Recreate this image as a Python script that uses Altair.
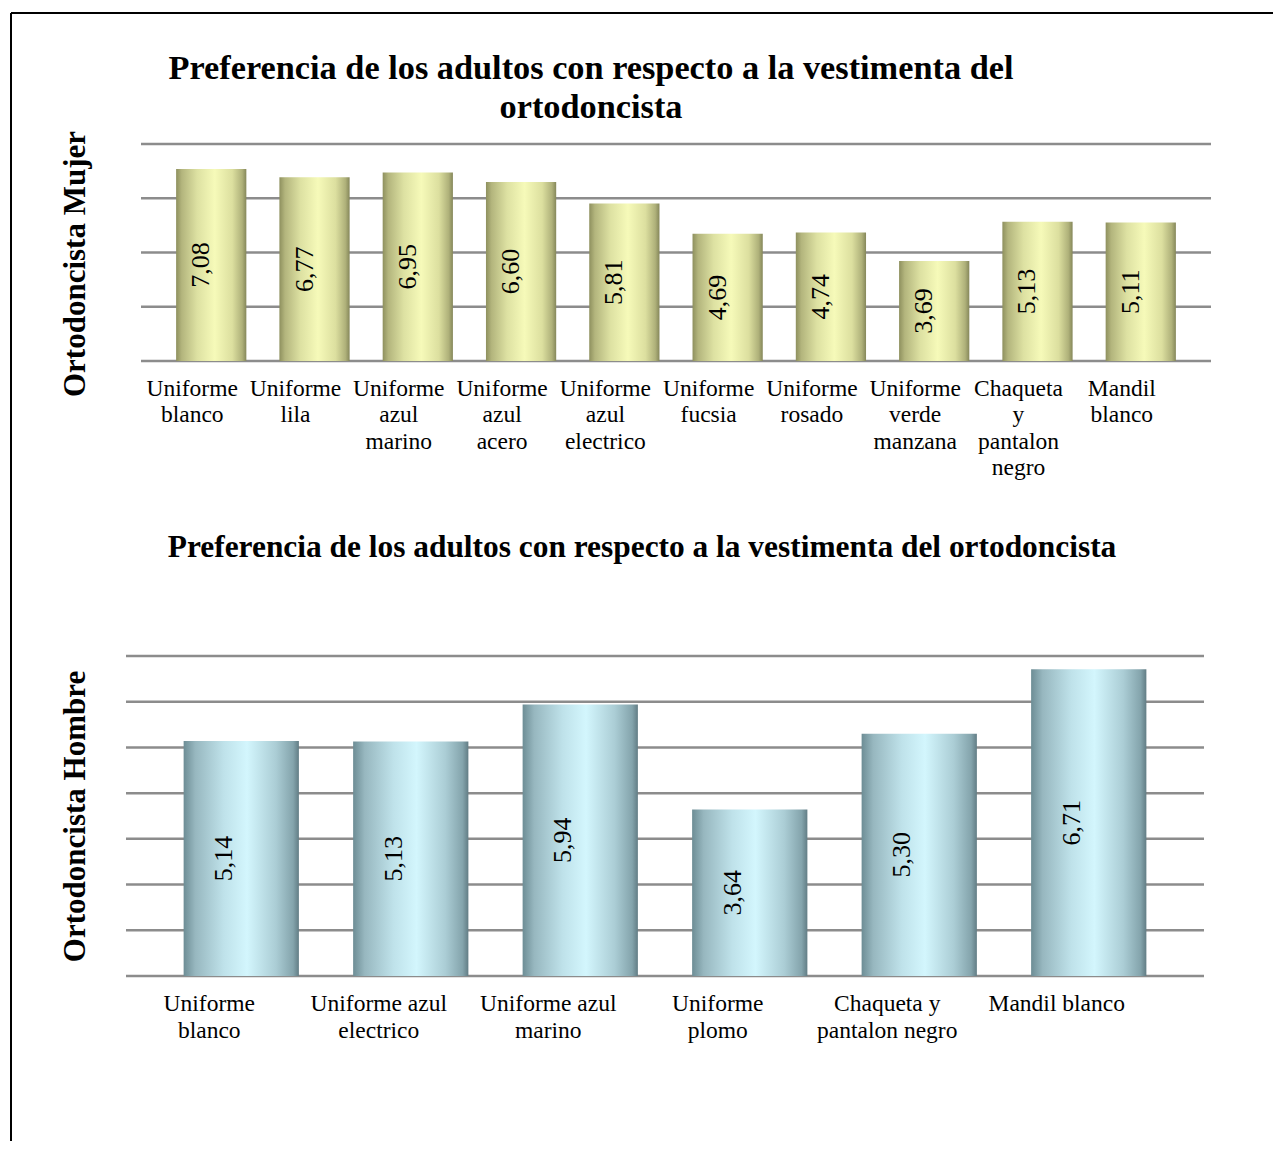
import altair as alt
import pandas as pd

FONT = "Liberation Serif"

# ---- data: top panel (Ortodoncista Mujer) ----
top_categories = [
    "Uniforme|blanco", "Uniforme|lila", "Uniforme|azul|marino", "Uniforme|azul|acero",
    "Uniforme|azul|electrico", "Uniforme|fucsia", "Uniforme|rosado",
    "Uniforme|verde|manzana", "Chaqueta|y|pantalon|negro", "Mandil|blanco",
]
top_values = [7.08, 6.77, 6.95, 6.60, 5.81, 4.69, 4.74, 3.69, 5.13, 5.11]
top_grid = [0, 2, 4, 6, 8]
top_title = ["Preferencia de los adultos con respecto a la vestimenta del", "ortodoncista"]
top_ytitle = "Ortodoncista Mujer"

# ---- data: bottom panel (Ortodoncista Hombre) ----
bottom_categories = [
    "Uniforme|blanco", "Uniforme azul|electrico", "Uniforme azul|marino",
    "Uniforme|plomo", "Chaqueta y|pantalon negro", "Mandil blanco",
]
bottom_values = [5.14, 5.13, 5.94, 3.64, 5.30, 6.71]
bottom_grid = [0, 1, 2, 3, 4, 5, 6, 7]
bottom_title = "Preferencia de los adultos con respecto a la vestimenta del ortodoncista"
bottom_ytitle = "Ortodoncista Hombre"

# ---- styles ----
yellow_stops = [("#8e905e", 0.0), ("#b3b57d", 0.08), ("#dde1a2", 0.3), ("#f6fab9", 0.55),
                ("#dcdf9f", 0.8), ("#afb17a", 0.94), ("#85875a", 1.0)]
blue_stops = [("#6d8d95", 0.0), ("#97b7bf", 0.1), ("#bfe2ea", 0.35), ("#d3f6fd", 0.55),
              ("#abcdd5", 0.8), ("#84a4ac", 0.95), ("#627d85", 1.0)]
GRID_COLOR = "#8c8c8c"


def gradient(stops):
    return alt.Gradient(
        gradient="linear", x1=0, x2=1, y1=0, y2=0,
        stops=[alt.GradientStop(color=c, offset=o) for c, o in stops],
    )


def panel(cats, vals, grid, title, title_size, title_dx, title_offset, ytitle,
          ytitle_y, width, height, x_range, stops, label_pad, label_lh,
          label_off, text_dy, vrule, hrule=None):
    df = pd.DataFrame({"cat": cats, "v": vals})
    base = alt.Chart(df)
    x_axis = alt.Axis(
        title=None, labelExpr="split(datum.label, '|')", labelAngle=0,
        labelFont=FONT, labelFontSize=23.5, labelLineHeight=label_lh,
        labelPadding=label_pad, labelOffset=label_off, labelColor="black",
        ticks=False, tickSize=0, domain=False, labelOverlap=False,
        labelLimit=400, grid=False,
    )
    y_axis_kw = dict(
        title=ytitle, values=grid, labels=False, ticks=False, tickSize=0,
        domain=False, grid=False,
        titleFont=FONT, titleFontSize=31, titleFontWeight="bold",
        titleColor="black", titlePadding=50,
    )
    if ytitle_y is not None:
        y_axis_kw["titleY"] = ytitle_y
    y_axis = alt.Axis(**y_axis_kw)
    x_scale = alt.Scale(paddingInner=0.32, paddingOuter=0.34, range=x_range)
    y_scale = alt.Scale(domain=[grid[0], grid[-1]], nice=False)

    # gridlines (drawn first, below bars)
    gdf = pd.DataFrame({"g": grid})
    gridlines = alt.Chart(gdf).mark_rule(color=GRID_COLOR, strokeWidth=2.5).encode(
        y=alt.Y("g:Q", scale=y_scale, axis=y_axis),
        x=alt.value(x_range[0]), x2=alt.value(x_range[1]),
    )
    bars = base.mark_bar(color=gradient(stops)).encode(
        x=alt.X("cat:N", sort=cats, scale=x_scale, axis=x_axis),
        y=alt.Y("v:Q", scale=y_scale, axis=y_axis),
    )
    texts = base.transform_calculate(
        mid="datum.v / 2",
        lab="replace(format(datum.v, '.2f'), '.', ',')",
    ).mark_text(
        angle=270, align="center", baseline="alphabetic", font=FONT,
        fontSize=26, color="black", dy=text_dy,
    ).encode(
        x=alt.X("cat:N", sort=cats, scale=x_scale, axis=x_axis),
        y=alt.Y("mid:Q", scale=y_scale, axis=y_axis),
        text="lab:N",
    )
    one = alt.Data(values=[{"a": 1}])
    layers = [gridlines, bars, texts]
    rx, ry1, ry2 = vrule
    layers.append(alt.Chart(one).mark_rule(color="black", strokeWidth=2).encode(
        x=alt.value(rx), y=alt.value(ry1), y2=alt.value(ry2)))
    if hrule is not None:
        hx1, hx2, hy = hrule
        layers.append(alt.Chart(one).mark_rule(color="black", strokeWidth=2).encode(
            x=alt.value(hx1), x2=alt.value(hx2), y=alt.value(hy)))
    return alt.layer(*layers).properties(
        width=width, height=height,
        title=alt.TitleParams(
            text=title, font=FONT, fontSize=title_size, fontWeight="bold",
            color="black", anchor="middle", dx=title_dx, offset=title_offset,
            lineHeight=38.5, frame="group",
        ),
    )


top = panel(top_categories, top_values, top_grid, top_title, 34.3, -85, -113,
            top_ytitle, 119.5, 1070, 217, [0, 1070], yellow_stops, 15.5, 26.3,
            -19, -2, vrule=(-130, -131, 377), hrule=(-130, 1132, -131))

bottom = panel(bottom_categories, bottom_values, bottom_grid, bottom_title, 31.4,
               -30.5, -57, bottom_ytitle, None, 1063, 320, [-15, 1063], blue_stops,
               15.5, 27, -32, -9, vrule=(-130, -149, 485))

chart = alt.vconcat(top, bottom, spacing=295, bounds="flush").configure_view(
    strokeWidth=0
).properties(
    padding={"left": 2, "top": 4, "right": 0, "bottom": 0}, background="white"
)

chart.save("out.html", embed_options={"renderer": "svg", "actions": False})
